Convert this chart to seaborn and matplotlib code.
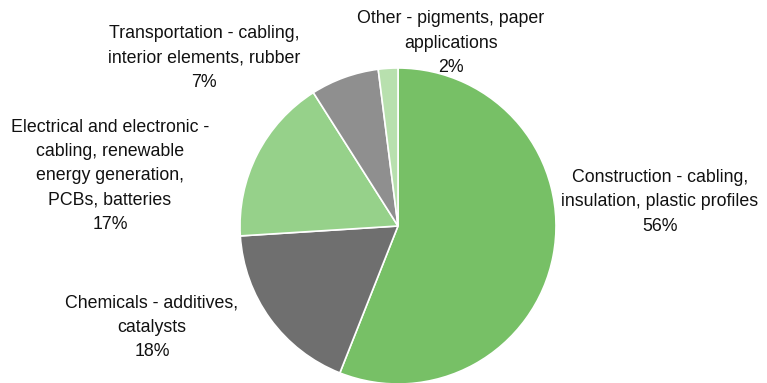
import matplotlib
matplotlib.use("Agg")
import matplotlib.pyplot as plt
import seaborn as sns

# Share of end uses
categories = [
    "Construction - cabling,\ninsulation, plastic profiles",
    "Chemicals - additives,\ncatalysts",
    "Electrical and electronic -\ncabling, renewable\nenergy generation,\nPCBs, batteries",
    "Transportation - cabling,\ninterior elements, rubber",
    "Other - pigments, paper\napplications",
]
shares = [56, 18, 17, 7, 2]
colors = ["#77c066", "#6f6f6f", "#96d18a", "#8f8f8f", "#b8e0ae"]

sns.set_theme(style="white")
plt.rcParams["font.family"] = ["Liberation Sans Narrow", "Liberation Sans", "DejaVu Sans"]

W, H = 767, 383
fig = plt.figure(figsize=(W / 100, H / 100), dpi=100)
ax = fig.add_axes([0, 0, 1, 1])

# pixel-based frame: pie centre and radius in pixels
cx, cy, r = 398, 226, 158

ax.pie(shares, colors=colors, startangle=90, counterclock=False, radius=1,
       wedgeprops=dict(edgecolor="white", linewidth=1.2), frame=True)
ax.set_xlim(-cx / r, (W - cx) / r)
ax.set_ylim((cy - H) / r, cy / r)
ax.set_aspect("equal")
ax.axis("off")

# label block centres in pixels
label_px = [(660, 202), (152, 327), (110, 176), (204, 58), (451, 43)]
for name, val, (px, py) in zip(categories, shares, label_px):
    ax.text((px - cx) / r, (cy - py) / r, f"{name}\n{val}%", ha="center", va="center",
            fontsize=12.8, color="#111111", linespacing=1.56)

fig.savefig("out.png", dpi=100)
